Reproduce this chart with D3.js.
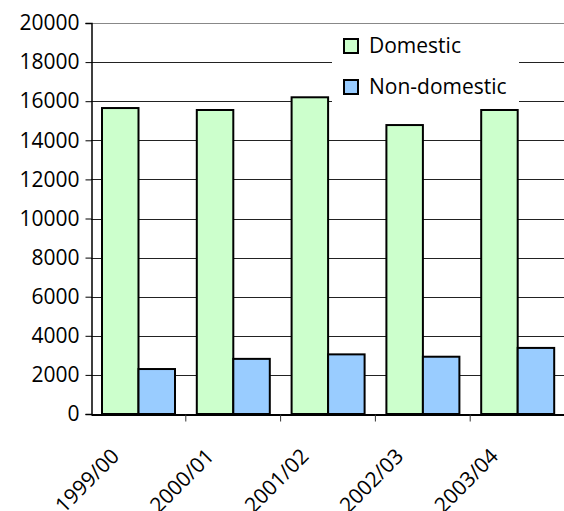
<!DOCTYPE html>
<html>
<head>
<meta charset="utf-8">
<script src="https://cdn.jsdelivr.net/npm/d3@7"></script>
<style>
  body { margin: 0; background: #fff; }
  svg { display: block; }
  text { font-family: "Open Sans", sans-serif; font-size: 21px; fill: #000; }
</style>
</head>
<body>
<svg id="chart"></svg>
<script>
var categories = ["1999/00", "2000/01", "2001/02", "2002/03", "2003/04"];
var seriesNames = ["Domestic", "Non-domestic"];
var domestic = [15650, 15550, 16200, 14780, 15550];
var nonDomestic = [2300, 2820, 3050, 2930, 3380];
var yTicks = [0, 2000, 4000, 6000, 8000, 10000, 12000, 14000, 16000, 18000, 20000];

var svgWidth = 564, svgHeight = 511;
var plotLeft = 91, plotRight = 565, plotTop = 23, plotBottom = 414;
var colors = ["#ccffcc", "#99ccff"];

var svg = d3.select("#chart").attr("width", svgWidth).attr("height", svgHeight);

var x0 = d3.scaleBand().domain(categories).range([plotLeft, plotRight]).padding(0);
var x1 = d3.scaleBand().domain(seriesNames).range([11, 84]).padding(0);
var y = d3.scaleLinear().domain([0, 20000]).range([plotBottom, plotTop]);

// gridlines
svg.append("g").selectAll("line")
  .data(yTicks.filter(function(d){ return d > 0; }))
  .enter().append("line")
  .attr("x1", plotLeft).attr("x2", plotRight)
  .attr("y1", function(d){ return Math.round(y(d)) + 0.5; })
  .attr("y2", function(d){ return Math.round(y(d)) + 0.5; })
  .attr("stroke", function(d){ return d === 20000 ? "#888" : "#222"; })
  .attr("stroke-width", 1);

// bars
var rows = categories.map(function(c, i){ return {cat: c, vals: [domestic[i], nonDomestic[i]]}; });
var groups = svg.append("g").selectAll("g")
  .data(rows).enter().append("g")
  .attr("transform", function(d){ return "translate(" + x0(d.cat) + ",0)"; });
groups.selectAll("rect")
  .data(function(d){ return d.vals.map(function(v, j){ return {name: seriesNames[j], v: v, j: j}; }); })
  .enter().append("rect")
  .attr("x", function(d){ return x1(d.name); })
  .attr("width", x1.bandwidth())
  .attr("y", function(d){ return y(d.v); })
  .attr("height", function(d){ return plotBottom - y(d.v); })
  .attr("fill", function(d){ return colors[d.j]; })
  .attr("stroke", "#000")
  .attr("stroke-width", 2);

// y axis
var yAxis = d3.axisLeft(y).tickValues(yTicks).tickSize(6).tickPadding(6).tickFormat(d3.format("d"));
var gy = svg.append("g").attr("transform", "translate(" + (plotLeft + 0.5) + ",0)").call(yAxis);
gy.select(".domain").attr("stroke", "#000").attr("stroke-width", 1.5);
gy.selectAll(".tick line").attr("stroke", "#000");
gy.selectAll("text").attr("font-size", null).attr("font-family", null);

// x axis
var xAxis = d3.axisBottom(x0).tickSize(0).tickFormat("");
var gx = svg.append("g").attr("transform", "translate(0," + (plotBottom + 0.5) + ")").call(xAxis);
gx.select(".domain").attr("stroke", "#000").attr("stroke-width", 2);
gx.selectAll(".sep").data(categories.slice(1)).enter().append("line")
  .attr("x1", function(d){ return x0(d); }).attr("x2", function(d){ return x0(d); })
  .attr("y1", 0).attr("y2", 7).attr("stroke", "#333");
gx.selectAll(".lbl").data(categories).enter().append("text")
  .attr("text-anchor", "end")
  .attr("transform", function(d){
    return "translate(" + (x0(d) + x0.bandwidth() / 2 - 18) + ",43) rotate(-45)";
  })
  .text(function(d){ return d; });

// legend
var legend = svg.append("g");
legend.append("rect").attr("x", 332).attr("y", 30).attr("width", 187).attr("height", 74).attr("fill", "#fff");
seriesNames.forEach(function(name, i){
  var cy = 46 + i * 41;
  legend.append("rect").attr("x", 344).attr("y", cy - 7).attr("width", 14).attr("height", 14)
    .attr("fill", colors[i]).attr("stroke", "#000").attr("stroke-width", 2);
  legend.append("text").attr("x", 369).attr("y", cy).attr("dy", "0.35em").text(name);
});
</script>
</body>
</html>
